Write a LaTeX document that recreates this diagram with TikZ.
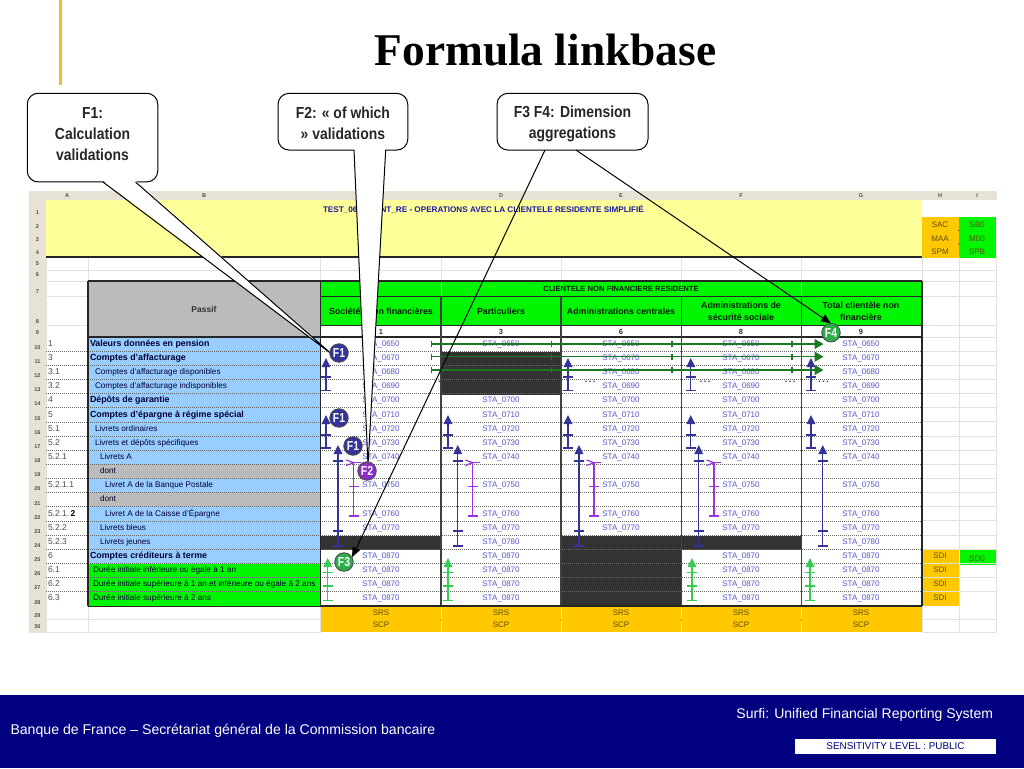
\documentclass[tikz,border=0pt]{standalone}
\usepackage{fontspec}
\usepackage{graphicx}
\setmainfont{Liberation Sans}
\newfontfamily\titlefont{Liberation Serif}
\usetikzlibrary{arrows.meta}
\definecolor{hdrbar}{HTML}{E6E3D4}
\definecolor{gridc}{HTML}{E2E2DC}
\definecolor{sheetyellow}{HTML}{FFFF99}
\definecolor{sheetblue}{HTML}{99CCFF}
\definecolor{sheetgreen}{HTML}{00F500}
\definecolor{sheetgrey}{HTML}{BBBBBB}
\definecolor{sheetorange}{HTML}{FFC800}
\definecolor{sheetdark}{HTML}{333333}
\definecolor{stablue}{HTML}{5555CC}
\definecolor{mblue}{HTML}{333399}
\definecolor{mpurple}{HTML}{9933DD}
\definecolor{mgreen}{HTML}{33CC55}
\definecolor{hgreen}{HTML}{1A7A22}
\definecolor{navyfoot}{HTML}{000080}
\definecolor{olive}{HTML}{5E4E0C}
\definecolor{accent}{HTML}{F7B733}
\tikzset{
  every node/.style={inner sep=0pt,outer sep=0pt},
  cellfont/.style={font=\fontsize{8}{9}\selectfont,text height=6pt,text depth=1.5pt},
  rowlab/.style={anchor=west,text=black!80!blue,font=\fontsize{8.2}{9}\selectfont,text height=6pt,text depth=1.5pt},
  rowlabb/.style={rowlab,font=\fontsize{8.85}{9}\selectfont\bfseries},
  numa/.style={anchor=west,text=black!70,font=\fontsize{8.5}{9}\selectfont,text height=6pt,text depth=1.5pt},
  stacell/.style={cellfont,text=stablue},
  hdrtxt/.style={font=\fontsize{5.5}{6}\selectfont\bfseries,text=black!70},
  headgreen/.style={font=\fontsize{7.6}{10.5}\selectfont\bfseries,align=center,text=black!75!green!40!black},
  headcol/.style={font=\fontsize{8.8}{12}\selectfont\bfseries,align=center,text=black!75!green!40!black},
  olivetxt/.style={cellfont,text=olive},
  gridline/.style={gridc,line width=1pt},
  heavy/.style={black!85,line width=1.3pt},
  rowdots/.style={black!60,line width=.8pt,dash pattern=on 1pt off 1pt},
  callbox/.style={draw=black,fill=white,line width=1pt,rounded corners=11pt},
  calltxt/.style={font=\fontsize{16}{21}\selectfont\bfseries,align=center,text=black!85},
  tailfill/.style={fill=white,draw=none},
  tailline/.style={draw=black,line width=1pt},
  badge/.style={circle,draw=black!70,line width=.9pt,minimum size=18.5pt,text=white,font=\fontsize{13}{13}\selectfont\bfseries},
  dotmark/.style={font=\fontsize{9}{9}\selectfont\bfseries,text=mblue!70!black},
  leader/.style={draw=black,line width=1pt,-{Triangle[length=10pt,width=8pt]}},
  upmark/.style={line width=1.4pt,-{Triangle[length=9pt,width=8.5pt]}},
  tickline/.style={line width=1.3pt},
  hmark/.style={hgreen,line width=1.3pt,-{Triangle[length=9pt,width=10pt]}},
}
\newcommand{\Ticks}[4]{% colour, x, half width, y list
  \foreach \ty in {#4} \draw[tickline,#1] (#2-#3,\ty) -- (#2+#3,\ty);}
\begin{document}
\begin{tikzpicture}[x=1pt,y=-1pt]
\useasboundingbox (0,0) rectangle (1024,768);
\fill[white] (0,0) rectangle (1024,768);
% slide furniture
\fill[accent] (58.5,0) rectangle (61.5,85);
\node[font=\fontsize{45.4}{50}\selectfont\bfseries\titlefont,name=slidetitle] at (545.5,50) {Formula linkbase};
\fill[navyfoot] (0,695) rectangle (1024,768);
\node[anchor=west,text=white,font=\fontsize{14.1}{16}\selectfont,name=foot1] at (10.5,730.5) {Banque de France – Secrétariat général de la Commission bancaire};
\node[anchor=east,text=white,font=\fontsize{14}{16}\selectfont,name=foot2] at (993,714.5) {Surfi: Unified Financial Reporting System};
\node[fill=white,text=navyfoot,minimum width=201pt,minimum height=15pt,font=\fontsize{9.9}{11}\selectfont,name=foot3] at (895.5,746.5) {SENSITIVITY LEVEL : PUBLIC};
% sheet headers
\fill[hdrbar] (29,191) rectangle (996,199.5);
\fill[hdrbar] (29,199.5) rectangle (46,632);
\foreach \x/\l in {67/A,204/B,381/C,501/D,621/E,741/F,861/G,940/H,977/I}
  \node[hdrtxt,name=col\l] at (\x,195.5) {\l};
\foreach \r/\y in {1/213,2/227,3/240,4/253,5/264,6/275,7/292,8/322,9/333,29/616,30/627}
  \node[hdrtxt,name=rh\r] at (37.5,\y) {\r};
\foreach \r in {10,...,28}{
  \pgfmathsetmacro\yy{337+14.15*(\r-10)+10.5}
  \node[hdrtxt,name=rh\r] at (37.5,\yy) {\r};}
% fills
\fill[sheetyellow] (46,199.5) rectangle (922,257);
\fill[sheetorange] (922,217) rectangle (959,258);
\fill[sheetgreen] (959,217) rectangle (996,258);
\fill[sheetgrey] (88,281) rectangle (320.5,337);
\fill[sheetgreen] (320.5,281) rectangle (922,325.7);
\fill[sheetblue] (88,337) rectangle (320.5,563.5);
\fill[sheetgreen] (88,563.5) rectangle (320.5,606);
\fill[sheetgrey] (88,463.5) rectangle (320.5,477.7);
\fill[sheetgrey] (88,491.8) rectangle (320.5,506);
\fill[sheetorange] (320.5,606) rectangle (922,632);
\fill[sheetorange] (922,549.7) rectangle (959,606);
\fill[sheetgreen] (959,549.7) rectangle (996,564.5);
% excel grid
\foreach \x in {46,88,320.5,441,561,681.5,801.5,922,959,996}{
  \draw[gridline] (\x,257) -- (\x,632);
  \draw[gridline] (\x,191) -- (\x,199.5);}
\foreach \y in {270,281,296.7,325.7}
  \draw[gridline] (46,\y) -- (88,\y) (922,\y) -- (996,\y);
\draw[gridline] (88,270) -- (922,270);
\draw[gridline] (46,619) -- (320.5,619) (922,619) -- (996,619);
\draw[gridline] (46,632) -- (320.5,632) (922,632) -- (996,632);
\foreach \r in {10,...,28}{
  \pgfmathsetmacro\yy{337+14.15*(\r-10)}
  \draw[gridline] (922,\yy) -- (996,\yy);}
\foreach \y in {270,281,619,632}
  \draw[gridline] (29,\y) -- (46,\y);
% dark cells
\fill[sheetdark] (441,352) rectangle (561,394.5);
\fill[sheetdark] (320.5,536) rectangle (441,550);
\fill[sheetdark] (561,536) rectangle (681.5,606);
\fill[sheetdark] (681.5,536) rectangle (801.5,550);
% row dots
\foreach \r in {11,...,28}{
  \pgfmathsetmacro\yy{337+14.15*(\r-10)}
  \draw[rowdots] (46,\yy) -- (922,\yy);}
% heavy table lines
\draw[heavy] (46,257) -- (922,257);
\draw[heavy] (88,281) -- (922,281);
\draw[heavy] (88,337) -- (922,337);
\draw[heavy] (320.5,296.7) -- (922,296.7);
\draw[heavy] (320.5,325.7) -- (922,325.7);
\draw[heavy] (88,281) -- (88,606);
\draw[heavy] (320.5,281) -- (320.5,606);
\foreach \x in {441,561,681.5,801.5}
  \draw[heavy,black!75] (\x,296.7) -- (\x,606);
\draw[heavy] (922,281) -- (922,606);
\draw[heavy] (320.5,606) -- (922,606);
\draw[black!85,line width=1pt] (88,606) -- (320.5,606);
% header text
\node[font=\fontsize{8.15}{9}\selectfont\bfseries,text=blue!60!black!90,anchor=west,name=sheettitle] at (323,209) {TEST\_06\_CLIENT\_RE - OPERATIONS AVEC LA CLIENTELE RESIDENTE SIMPLIFIÉ};
\node[headgreen,name=hclient] at (621,288.5) {CLIENTELE NON FINANCIERE RESIDENTE};
\node[font=\fontsize{8.5}{9}\selectfont\bfseries,text=black!80,name=hpassif] at (204,309) {Passif};
\node[headcol,name=hc] at (381,311.5) {Sociétés non financières};
\node[headcol,name=hd] at (501,311.5) {Particuliers};
\node[headcol,name=he] at (621,311.5) {Administrations centrales};
\node[headcol,name=hf] at (741,311.5) {Administrations de\\sécurité sociale};
\node[headcol,name=hg] at (861,311.5) {Total clientèle non\\financière};
\foreach \x/\n in {381/1,501/3,621/6,741/8,861/9}
  \node[font=\fontsize{7.5}{8}\selectfont\bfseries,text=black!80,name=cn\n] at (\x,332) {\n};
% orange side columns
\foreach \y/\a/\b in {225/SAC/SB0,239/MAA/M00,252/SPM/SPB}{
  \node[olivetxt,name=o\a] at (940,\y) {\a};
  \node[olivetxt,name=g\b] at (977,\y) {\b};}
\fill[olive] (958.5,230.5) circle (.6pt) (958.5,244) circle (.6pt);
\foreach \r in {25,...,28}{
  \pgfmathsetmacro\yy{337+14.15*(\r-10)+7}
  \node[olivetxt,name=sdi\r] at (940,\yy) {SDI};}
\node[olivetxt,name=sdo] at (977,559) {SD0};
\foreach \x/\c in {381/c,501/d,621/e,741/f,861/g}{
  \node[olivetxt,name=srs\c] at (\x,613) {SRS};
  \node[olivetxt,name=scp\c] at (\x,625.5) {SCP};}
\foreach \x in {441,561,681.5,801.5}
  \fill[olive] (\x,620) circle (.7pt);
% column A
\foreach \r/\t in {10/1,11/3,12/3.1,13/3.2,14/4,15/5,16/5.1,17/5.2,18/5.2.1,20/5.2.1.1,22/{5.2.1.\,\textbf{\textcolor{black}{2}}},23/5.2.2,24/5.2.3,25/6,26/6.1,27/6.2,28/6.3}{
  \pgfmathsetmacro\yy{337+14.15*(\r-10)+7}
  \node[numa,name=num\r] at (48,\yy) {\t};}
% column B
\foreach \r/\t in {10/Valeurs données en pension,11/Comptes d'affacturage,14/Dépôts de garantie,15/Comptes d'épargne à régime spécial,25/Comptes créditeurs à terme}{
  \pgfmathsetmacro\yy{337+14.15*(\r-10)+7}
  \node[rowlabb,name=lab\r] at (90,\yy) {\t};}
\foreach \r/\t in {12/Comptes d'affacturage disponibles,13/Comptes d'affacturage indisponibles,16/Livrets ordinaires,17/Livrets et dépôts spécifiques}{
  \pgfmathsetmacro\yy{337+14.15*(\r-10)+7}
  \node[rowlab,name=lab\r] at (95,\yy) {\t};}
\foreach \r/\t in {18/Livrets A,19/dont,21/dont,23/Livrets bleus,24/Livrets jeunes}{
  \pgfmathsetmacro\yy{337+14.15*(\r-10)+7}
  \node[rowlab,name=lab\r] at (100,\yy) {\t};}
\foreach \r/\t in {20/Livret A de la Banque Postale,22/Livret A de la Caisse d'Épargne}{
  \pgfmathsetmacro\yy{337+14.15*(\r-10)+7}
  \node[rowlab,name=lab\r] at (105,\yy) {\t};}
\foreach \r/\t in {26/Durée initiale inférieure ou égale à 1 an,27/Durée initiale supérieure à 1 an et inférieure ou égale à 2 ans,28/Durée initiale supérieure à 2 ans}{
  \pgfmathsetmacro\yy{337+14.15*(\r-10)+7}
  \node[rowlab,name=lab\r] at (93,\yy) {\t};}
% STA cells
\foreach \x/\c/\rows in {
  381/c/{10,11,12,13,14,15,16,17,18,20,22,23,25,26,27,28},
  501/d/{10,14,15,16,17,18,20,22,23,24,25,26,27,28},
  621/e/{10,11,12,13,14,15,16,17,18,20,22,23},
  741/f/{10,11,12,13,14,15,16,17,18,20,22,23,25,26,27,28},
  861/g/{10,11,12,13,14,15,16,17,18,20,22,23,24,25,26,27,28}}{
  \foreach \r in \rows {
    \pgfmathsetmacro\yy{337+14.15*(\r-10)+7}
    \ifcase\numexpr\r-10\relax \def\code{0650}\or \def\code{0670}\or \def\code{0680}\or \def\code{0690}\or \def\code{0700}\or \def\code{0710}\or \def\code{0720}\or \def\code{0730}\or \def\code{0740}\or \def\code{}\or \def\code{0750}\or \def\code{}\or \def\code{0760}\or \def\code{0770}\or \def\code{0780}\else \def\code{0870}\fi
    \node[stacell,name=sta\c\r] at (\x,\yy) {STA\_\code};}}
% blue short marks
\foreach \x in {326,568,690.7,811}{
  \draw[upmark,mblue] (\x,390.5) -- (\x,358);
  \Ticks{mblue}{\x}{4.8}{377,390.5}}
\foreach \x in {326,448,568,690.7,811}{
  \draw[upmark,mblue] (\x,448) -- (\x,415);
  \Ticks{mblue}{\x}{4.8}{435,448}}
% blue long marks
\foreach \x in {338,457.7,579,698.7,822.7}{
  \draw[upmark,mblue] (\x,546) -- (\x,445);
  \Ticks{mblue}{\x}{4.8}{461,531,546}}
% purple marks
\foreach \x in {353.7,472.7,594,714}{
  \draw[mpurple,line width=1.3pt] (\x,516) -- (\x,462.7);
  \draw[mpurple,line width=1.2pt] (\x-7.5,460) -- (\x,462.7) -- (\x-7.5,465.5);
  \draw[mpurple,line width=1.2pt] (\x,462.5) -- (\x+7,462.5);
  \Ticks{mpurple}{\x}{4.8}{486.7,516}}
% green marks
\foreach \x in {327.7,448,692,810}{
  \draw[upmark,mgreen] (\x,600.7) -- (\x,558);
  \Ticks{mgreen}{\x}{4.8}{572.7,586,600.7}}
% dark green horizontal marks
\foreach \y in {344,356.7,370}{
  \draw[hmark] (431.7,\y) -- (823.5,\y);
  \foreach \x in {431.7,551.7,672,792}
    \draw[hgreen,line width=1.2pt] (\x,\y-3) -- (\x,\y+3);}
% dots
\foreach \x/\n in {439.5/a,590/b,705/c,790/d,823.5/e}
  \node[dotmark,name=dots\n] at (\x,382) {.\,.\,.};
% callouts
\node[callbox,minimum width=130.5pt,minimum height=88.7pt,name=boxa] at (92.5,137.6) {};
\node[callbox,minimum width=129.7pt,minimum height=56.7pt,name=boxb] at (342.9,121.7) {};
\node[callbox,minimum width=151pt,minimum height=56.7pt,name=boxc] at (572.5,121.7) {};
\coordinate (tipa) at (331,353.5);
\coordinate (tipb) at (368,465);
\fill[tailfill] (103,180.5) -- (135.5,180.5) -- (tipa) -- cycle;
\draw[tailline] (103,182) -- (tipa) -- (135.5,182);
\fill[tailfill] (354,148.5) -- (385.7,148.5) -- (tipb) -- cycle;
\draw[tailline] (354,150) -- (tipb) -- (385.7,150);
\node[calltxt,name=txta] at (92.5,134.5) {\scalebox{.87}[1]{F1:}\\\scalebox{.87}[1]{Calculation}\\\scalebox{.87}[1]{validations}};
\node[calltxt,name=txtb] at (342.9,123.5) {\scalebox{.87}[1]{F2: « of which}\\\scalebox{.87}[1]{» validations}};
\node[calltxt,name=txtc] at (572.5,123.5) {\scalebox{.87}[1]{F3 F4: Dimension}\\\scalebox{.87}[1]{aggregations}};
% badges
\node[badge,fill=mblue,name=fa] at (339,353) {\scalebox{.8}[1]{F1}};
\node[badge,fill=mblue,name=fb] at (339,418) {\scalebox{.8}[1]{F1}};
\node[badge,fill=mblue,name=fc] at (353,446) {\scalebox{.8}[1]{F1}};
\node[badge,fill=mpurple!90!black,name=fd] at (367,471) {\scalebox{.8}[1]{F2}};
\node[badge,fill=mgreen!85!black,name=fe] at (344,562) {\scalebox{.8}[1]{F3}};
\node[badge,fill=mgreen!85!black,name=ff] at (831,332.7) {\scalebox{.8}[1]{F4}};
% leaders
\draw[leader] ([xshift=-27.5pt]boxc.south) -- (fe.30);
\draw[leader] ([xshift=3.5pt]boxc.south) -- (ff.north);
\end{tikzpicture}
\end{document}
